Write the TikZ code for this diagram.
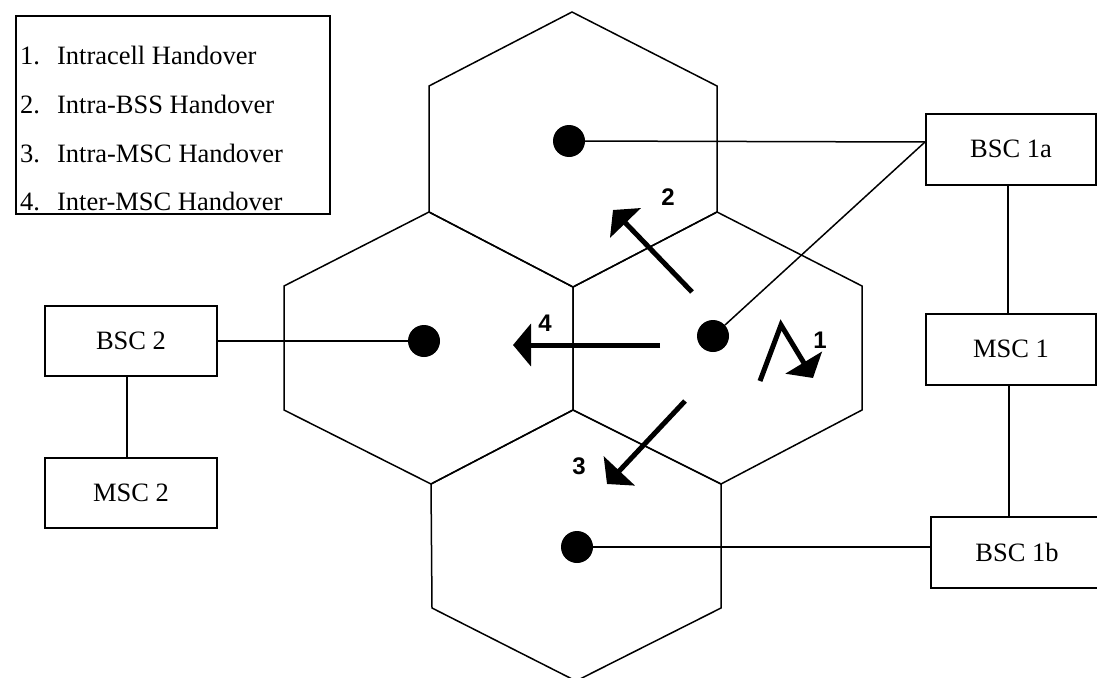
\documentclass[tikz,border=0pt]{standalone}
\usepackage{fontspec}
\setmainfont{Liberation Serif}
\newfontfamily\lsans{Liberation Sans}
\usetikzlibrary{arrows.meta,calc}
\begin{document}
\begin{tikzpicture}[x=1pt,y=-1pt,
  cell/.style={line width=1.5pt,line join=miter},
  box/.style={draw,line width=2pt,fill=white,minimum width=170pt,minimum height=71pt,inner sep=0pt,font=\fontsize{26.5}{30}\selectfont},
  dot/.style={circle,fill=black,minimum size=32pt,inner sep=0pt},
  link/.style={line width=1.5pt},
  hand/.style={line width=5pt,-{Triangle[length=18pt,width=42pt]}},
  num/.style={font=\lsans\bfseries\fontsize{24}{28}\selectfont,inner sep=0pt},
  leg/.style={anchor=base west,inner sep=0pt,font=\fontsize{26.5}{30}\selectfont}]
\useasboundingbox (0,0) rectangle (1097,677);
\begin{scope}
\clip (0,0) rectangle (1097,677);
% cells
\draw[cell] (572,12) -- (717,86) -- (717,212) -- (573,287) -- (429,212) -- (429,86) -- cycle;
\draw[cell] (429,212) -- (573,287) -- (573,410) -- (431,484) -- (284,410) -- (284,286) -- cycle;
\draw[cell] (717,212) -- (862,286) -- (862,410) -- (721,484) -- (573,410) -- (573,287) -- cycle;
\draw[cell] (573,410) -- (721,484) -- (721,608) -- (576,681) -- (432,608) -- (431,484) -- cycle;
% boxes
\node[box] (bsc1a) at (1011,149) {BSC 1a};
\node[box] (msc1) at (1011,349) {MSC 1};
\node[box,minimum width=172pt] (bsc1b) at (1017,552) {BSC 1b};
\node[box,minimum width=172pt,minimum height=70pt] (bsc2) at (131,341) {BSC 2};
\node[box,minimum width=172pt,minimum height=70pt] (msc2) at (131,493) {MSC 2};
\end{scope}
% dots
\node[dot] (dT) at (569,141) {};
\node[dot] (dL) at (424,341) {};
\node[dot] (dR) at (713,336) {};
\node[dot] (dB) at (577,547) {};
% links
\coordinate (ja) at ($(bsc1a.west)+(0,-7)$);
\draw[link] (dT.center) -- (ja);
\draw[link] (dR) -- (ja);
\draw[link] (dL.center) -- (dL.center -| bsc2.east);
\draw[link] (dB.center) -- (dB.center -| bsc1b.west);
\draw[link] (bsc1a.south -| 1008,0) -- (msc1.north -| 1008,0);
\draw[link] (msc1.south -| 1009,0) -- (bsc1b.north -| 1009,0);
\draw[link] (bsc2.south -| 127,0) -- (msc2.north -| 127,0);
% handover arrows
\coordinate (a2s) at (692,292); \coordinate (a2e) at (613,210);
\coordinate (a3s) at (685,401); \coordinate (a3e) at (607,484);
\coordinate (a4s) at (660,345); \coordinate (a4e) at (513,345);
\coordinate (a1s) at (760,381); \coordinate (a1m) at (781,325); \coordinate (a1e) at (813,378);
\draw[hand] (a2s) -- (a2e);
\draw[hand] (a3s) -- (a3e);
\draw[hand] (a4s) -- (a4e);
\draw[hand,line join=miter] (a1s) -- (a1m) -- (a1e);
\node[num] (n2) at (668,197) {2};
\node[num] (n4) at (545,323) {4};
\node[num] (n3) at (579,466) {3};
\node[num] (n1) at (820,340) {1};
% legend
\node[draw,line width=2pt,minimum width=314pt,minimum height=198pt,inner sep=0pt] (legend) at (173,115) {};
\node[leg] (l1) at (20,65) {1.\hspace{17pt}Intracell Handover};
\node[leg] (l2) at (20,113) {2.\hspace{17pt}Intra-BSS Handover};
\node[leg] (l3) at (20,162) {3.\hspace{17pt}Intra-MSC Handover};
\node[leg] (l4) at (20,210) {4.\hspace{17pt}Inter-MSC Handover};
\end{tikzpicture}
\end{document}
